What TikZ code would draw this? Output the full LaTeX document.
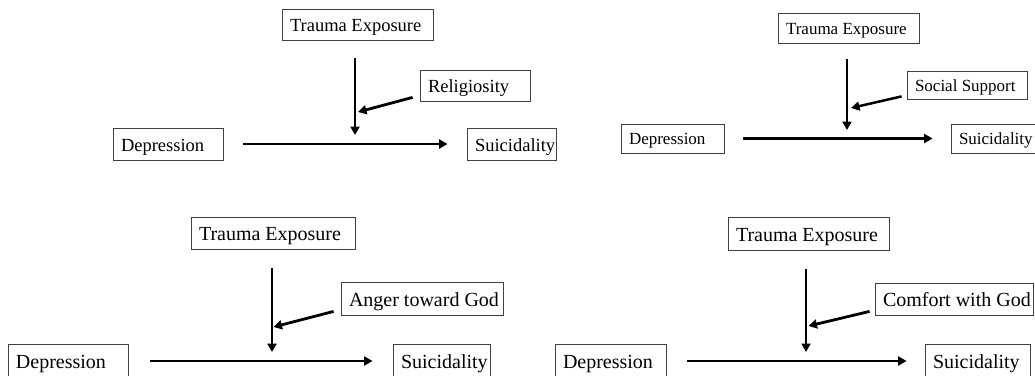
\documentclass[tikz,border=0pt]{standalone}
\usepackage{fontspec}
\setmainfont{Liberation Serif}
\usetikzlibrary{arrows.meta}
\newcommand{\lbx}[2]{\makebox[#1][l]{#2}}
\tikzset{
  box/.style={draw=black!75, line width=0.8pt, inner xsep=8pt, inner ysep=0pt, text=black, text depth=0pt},
  fA/.style={font=\fontsize{18.5}{20}\selectfont, text height=14.5pt},
  fB/.style={font=\fontsize{17}{19}\selectfont, text height=12.8pt},
  fC/.style={font=\fontsize{20}{22}\selectfont, text height=15.5pt},
  arr/.style={line width=2.8pt, -{Triangle[length=8.5pt,width=9pt]}},
}
\begin{document}
\begin{tikzpicture}[x=1pt,y=-1pt]
\useasboundingbox (0,0) rectangle (1035,375);
\clip (0,0) rectangle (1035,375);
% Panel 1
\node[box,fA,minimum height=31pt] (T1) at (357.5,24.5) {\lbx{135pt}{Trauma Exposure}};
\node[box,fA,minimum height=31pt] (R1) at (475,85.5) {\lbx{94pt}{Religiosity}};
\node[box,fA,minimum height=32pt] (D1) at (168,144) {\lbx{94pt}{Depression}};
\node[box,fA,minimum height=32pt] (S1) at (511.5,144) {\lbx{73pt}{Suicidality}};
\coordinate (j1) at (355,135);
\coordinate (m1) at (358,112);
\draw[arr, shorten <=18pt] (T1.south -| j1) -- (j1);
\draw[arr, shorten <=20pt, shorten >=19pt] (D1.east) -- (S1.west);
\draw[arr] ([xshift=-7pt,yshift=4pt]R1.south west) -- (m1);
% Panel 2
\node[box,fB,minimum height=30pt] (T2) at (848.5,28) {\lbx{125pt}{Trauma Exposure}};
\node[box,fB,minimum height=28pt] (SS2) at (967,85) {\lbx{104pt}{Social Support}};
\node[box,fB,minimum height=29pt] (D2) at (672.5,138.5) {\lbx{87pt}{Depression}};
\node[box,fB,minimum height=29pt] (S2) at (995.5,138.5) {\lbx{73pt}{Suicidality}};
\coordinate (j2) at (847,130);
\coordinate (m2) at (851,108);
\draw[arr, line width=2.5pt, shorten <=16pt] (T2.south -| j2) -- (j2);
\draw[arr, line width=2.5pt, shorten <=19pt, shorten >=18pt] (D2.east) -- (S2.west);
\draw[arr, line width=2.5pt] ([xshift=-5pt,yshift=3pt]SS2.south west) -- (m2);
% Panel 3
\node[box,fC,minimum height=32pt] (T3) at (273,233) {\lbx{148pt}{Trauma Exposure}};
\node[box,fC,minimum height=33pt] (A3) at (422,298.5) {\lbx{146pt}{Anger toward God}};
\node[box,fC,minimum height=34pt] (D3) at (68,361) {\lbx{104pt}{Depression}};
\node[box,fC,minimum height=34pt] (S3) at (441.5,361) {\lbx{81pt}{Suicidality}};
\coordinate (j3) at (272,352);
\coordinate (m3) at (273.5,327);
\draw[arr, shorten <=19pt] (T3.south -| j3) -- (j3);
\draw[arr, shorten <=22pt, shorten >=20pt] (D3.east) -- (S3.west);
\draw[arr] ([xshift=-7pt,yshift=4pt]A3.south west) -- (m3);
% Panel 4
\node[box,fC,minimum height=33pt] (T4) at (808.5,233.5) {\lbx{145pt}{Trauma Exposure}};
\node[box,fC,minimum height=32pt] (C4) at (954,299) {\lbx{142pt}{Comfort with God}};
\node[box,fC,minimum height=34pt] (D4) at (610.5,361) {\lbx{95pt}{Depression}};
\node[box,fC,minimum height=34pt] (S4) at (977.5,361) {\lbx{89pt}{Suicidality}};
\coordinate (j4) at (806,352);
\coordinate (m4) at (808.5,326);
\draw[arr, shorten <=19pt] (T4.south -| j4) -- (j4);
\draw[arr, shorten <=21pt, shorten >=18pt] (D4.east) -- (S4.west);
\draw[arr] ([xshift=-5pt,yshift=4pt]C4.south west) -- (m4);
\end{tikzpicture}
\end{document}
